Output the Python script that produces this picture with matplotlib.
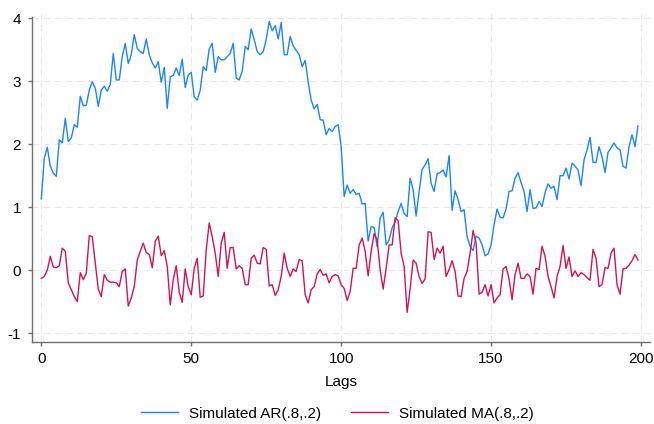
import matplotlib.pyplot as plt

lags = list(range(200))

#Simulated AR(.8,.2) series
ar_values = [1.13, 1.78, 1.95, 1.65, 1.54, 1.49, 2.07, 2.02, 2.41, 2.04,
             2.10, 2.31, 2.27, 2.76, 2.61, 2.62, 2.86, 2.99, 2.89, 2.60,
             2.86, 2.92, 2.84, 2.95, 3.44, 3.02, 3.02, 3.39, 3.60, 3.28,
             3.42, 3.74, 3.52, 3.47, 3.44, 3.67, 3.42, 3.29, 3.21, 3.31,
             2.98, 3.22, 2.57, 3.07, 3.09, 3.21, 3.09, 3.35, 2.90, 3.10,
             3.14, 2.75, 2.70, 2.86, 3.23, 3.17, 3.51, 3.60, 3.14, 3.39,
             3.34, 3.34, 3.39, 3.44, 3.60, 3.05, 3.02, 3.16, 3.55, 3.50,
             3.83, 3.66, 3.47, 3.42, 3.47, 3.66, 3.95, 3.80, 3.88, 3.67,
             3.93, 3.42, 3.42, 3.71, 3.56, 3.49, 3.42, 3.23, 3.33, 2.99,
             2.70, 2.56, 2.63, 2.39, 2.38, 2.15, 2.25, 2.20, 2.28, 2.31,
             1.96, 1.17, 1.35, 1.22, 1.28, 1.20, 1.22, 1.05, 1.06, 0.46,
             0.69, 0.68, 0.37, 0.83, 0.92, 0.40, 0.48, 0.67, 0.77, 0.93,
             1.06, 0.90, 0.85, 1.46, 1.28, 0.86, 1.25, 1.60, 1.67, 1.77,
             1.38, 1.25, 1.53, 1.55, 1.59, 1.48, 1.82, 0.95, 1.26, 1.12,
             0.93, 0.96, 0.53, 0.38, 0.31, 0.54, 0.51, 0.40, 0.23, 0.26,
             0.40, 0.72, 0.97, 0.84, 0.83, 0.97, 1.25, 1.26, 1.46, 1.55,
             1.39, 1.25, 0.93, 1.28, 0.98, 0.99, 1.09, 1.01, 1.23, 1.37,
             1.30, 1.33, 1.12, 1.50, 1.50, 1.62, 1.45, 1.70, 1.65, 1.59,
             1.34, 1.75, 1.91, 2.11, 1.71, 1.71, 1.96, 1.80, 1.55, 1.87,
             1.94, 2.02, 1.94, 1.91, 1.65, 1.62, 1.96, 2.15, 1.96, 2.29]

#Simulated MA(.8,.2) series
ma_values = [-0.13, -0.10, 0.00, 0.22, 0.05, 0.04, 0.07, 0.35, 0.30, -0.20,
             -0.31, -0.42, -0.50, -0.04, -0.15, -0.05, 0.55, 0.53, 0.11, -0.30,
             -0.42, -0.07, -0.16, -0.19, -0.19, -0.20, -0.26, -0.02, 0.02, -0.57,
             -0.44, -0.26, 0.16, 0.30, 0.43, 0.28, 0.25, 0.04, 0.46, 0.54,
             0.23, 0.31, 0.06, -0.55, -0.15, 0.07, -0.35, -0.51, 0.02, -0.26,
             -0.39, 0.03, 0.19, -0.43, -0.41, 0.32, 0.75, 0.53, 0.27, -0.10,
             0.43, 0.60, 0.03, 0.36, 0.36, 0.02, 0.07, 0.03, -0.23, -0.23,
             0.19, 0.24, 0.11, 0.10, 0.36, 0.33, -0.25, -0.23, -0.40, -0.31,
             -0.10, 0.27, 0.03, -0.10, 0.02, -0.02, 0.17, 0.15, -0.39, -0.52,
             -0.31, -0.26, -0.06, 0.01, -0.08, -0.06, -0.20, -0.10, -0.07, -0.09,
             -0.23, -0.29, -0.48, -0.34, 0.03, 0.03, 0.40, 0.51, 0.30, -0.09,
             0.30, 0.58, 0.48, 0.01, -0.30, 0.03, 0.40, 0.40, 0.83, 0.79,
             0.27, 0.06, -0.67, -0.30, 0.16, 0.11, -0.10, -0.21, -0.14, 0.61,
             0.60, 0.17, 0.35, 0.27, 0.38, -0.10, 0.01, 0.15, -0.02, -0.41,
             -0.42, -0.13, -0.02, 0.27, 0.63, 0.43, -0.38, -0.35, -0.23, -0.41,
             -0.23, -0.52, -0.44, -0.39, 0.02, 0.06, -0.14, -0.47, -0.07, 0.11,
             -0.13, -0.13, -0.06, -0.10, -0.38, 0.03, 0.01, 0.38, 0.22, -0.10,
             -0.26, -0.44, -0.10, 0.06, 0.39, 0.03, 0.21, -0.10, -0.01, -0.10,
             -0.04, -0.07, -0.12, -0.16, 0.33, 0.19, -0.26, -0.23, 0.04, 0.03,
             0.27, 0.35, -0.23, -0.38, 0.02, 0.03, 0.08, 0.15, 0.25, 0.16]

x_ticks = [0, 50, 100, 150, 200]
y_ticks = [-1, 0, 1, 2, 3, 4]

plt.rcParams['font.family'] = ['Liberation Sans', 'DejaVu Sans']
plt.rcParams['axes.unicode_minus'] = False  # plain hyphen in "-1"

fig = plt.figure(figsize=(6.54, 4.24), dpi=100)
ax = fig.add_axes([0.0494, 0.1934, 0.9445, 0.783])

ax.plot(lags, ar_values, color='#1a85ff', linewidth=1.0, label='Simulated AR(.8,.2)')
ax.plot(lags, ma_values, color='#d41159', linewidth=1.0, label='Simulated MA(.8,.2)')

ax.set_xlim(-3.0, 203.0)
ax.set_ylim(-1.14, 4.13)
ax.set_xticks(x_ticks)
ax.set_yticks(y_ticks)

#light dashed grid on both axes, behind the lines
ax.grid(True, color='#e8e8e8', linestyle=(0, (6, 4)), linewidth=0.8)
ax.set_axisbelow(True)

for side in ['top', 'right']:
    ax.spines[side].set_visible(False)
for side in ['left', 'bottom']:
    ax.spines[side].set_color('#707070')
    ax.spines[side].set_linewidth(1.0)
ax.spines['left'].set_bounds(-1.14, 4.02)

ax.tick_params(axis='both', colors='#707070', length=3, width=1.0, labelsize=11, labelcolor='black')
ax.tick_params(axis='x', pad=4.5)
ax.tick_params(axis='y', pad=5)

ax.set_xlabel('Lags', fontsize=11, labelpad=6)

fig.legend(loc='center', bbox_to_anchor=(0.516, 0.024), ncol=2, frameon=False,
           fontsize=11, handlelength=2.4, handletextpad=0.7, columnspacing=2.0)

fig.savefig('out.png', dpi=100)
